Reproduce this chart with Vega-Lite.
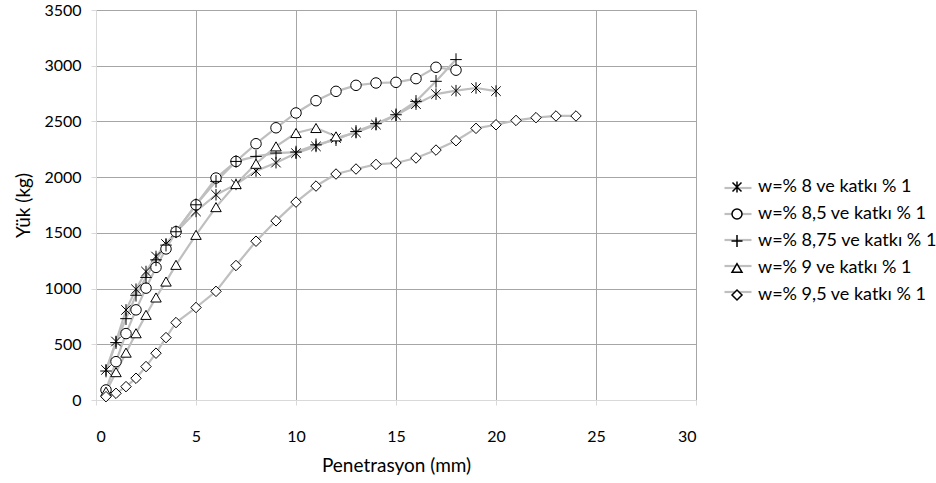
{
  "$schema": "https://vega.github.io/schema/vega-lite/v6.json",
  "width": 600,
  "height": 390,
  "autosize": {"type": "none"},
  "padding": {"left": 96, "top": 10, "right": 240, "bottom": 83},
  "background": "white",
  "config": {
    "view": {"stroke": null},
    "font": "Lato",
    "axis": {
      "grid": true,
      "gridColor": "#A6A6A6",
      "gridWidth": 1,
      "domainColor": "#D9D9D9",
      "tickColor": "#D9D9D9",
      "tickSize": 5,
      "labelFont": "Lato",
      "labelFontSize": 16,
      "labelColor": "#000000",
      "titleFont": "Lato",
      "titleFontSize": 19,
      "titleFontWeight": "normal",
      "titleColor": "#000000"
    }
  },
  "datasets": {
    "olcum": [
      {"s": "w=% 8 ve katkı % 1", "x": 0.5, "y": 270},
      {"s": "w=% 8 ve katkı % 1", "x": 1, "y": 525},
      {"s": "w=% 8 ve katkı % 1", "x": 1.5, "y": 808},
      {"s": "w=% 8 ve katkı % 1", "x": 2, "y": 994},
      {"s": "w=% 8 ve katkı % 1", "x": 2.5, "y": 1153},
      {"s": "w=% 8 ve katkı % 1", "x": 3, "y": 1288},
      {"s": "w=% 8 ve katkı % 1", "x": 3.5, "y": 1400},
      {"s": "w=% 8 ve katkı % 1", "x": 4, "y": 1505},
      {"s": "w=% 8 ve katkı % 1", "x": 5, "y": 1692},
      {"s": "w=% 8 ve katkı % 1", "x": 6, "y": 1842},
      {"s": "w=% 8 ve katkı % 1", "x": 7, "y": 1935},
      {"s": "w=% 8 ve katkı % 1", "x": 8, "y": 2055},
      {"s": "w=% 8 ve katkı % 1", "x": 9, "y": 2130},
      {"s": "w=% 8 ve katkı % 1", "x": 10, "y": 2215},
      {"s": "w=% 8 ve katkı % 1", "x": 11, "y": 2276},
      {"s": "w=% 8 ve katkı % 1", "x": 12, "y": 2351},
      {"s": "w=% 8 ve katkı % 1", "x": 13, "y": 2400},
      {"s": "w=% 8 ve katkı % 1", "x": 14, "y": 2471},
      {"s": "w=% 8 ve katkı % 1", "x": 15, "y": 2555},
      {"s": "w=% 8 ve katkı % 1", "x": 16, "y": 2655},
      {"s": "w=% 8 ve katkı % 1", "x": 17, "y": 2745},
      {"s": "w=% 8 ve katkı % 1", "x": 18, "y": 2776},
      {"s": "w=% 8 ve katkı % 1", "x": 19, "y": 2800},
      {"s": "w=% 8 ve katkı % 1", "x": 20, "y": 2772},
      {"s": "w=% 8,5 ve katkı % 1", "x": 0.5, "y": 90},
      {"s": "w=% 8,5 ve katkı % 1", "x": 1, "y": 344},
      {"s": "w=% 8,5 ve katkı % 1", "x": 1.5, "y": 596},
      {"s": "w=% 8,5 ve katkı % 1", "x": 2, "y": 809},
      {"s": "w=% 8,5 ve katkı % 1", "x": 2.5, "y": 1004},
      {"s": "w=% 8,5 ve katkı % 1", "x": 3, "y": 1190},
      {"s": "w=% 8,5 ve katkı % 1", "x": 3.5, "y": 1356},
      {"s": "w=% 8,5 ve katkı % 1", "x": 4, "y": 1510},
      {"s": "w=% 8,5 ve katkı % 1", "x": 5, "y": 1752},
      {"s": "w=% 8,5 ve katkı % 1", "x": 6, "y": 1992},
      {"s": "w=% 8,5 ve katkı % 1", "x": 7, "y": 2141},
      {"s": "w=% 8,5 ve katkı % 1", "x": 8, "y": 2300},
      {"s": "w=% 8,5 ve katkı % 1", "x": 9, "y": 2443},
      {"s": "w=% 8,5 ve katkı % 1", "x": 10, "y": 2576},
      {"s": "w=% 8,5 ve katkı % 1", "x": 11, "y": 2686},
      {"s": "w=% 8,5 ve katkı % 1", "x": 12, "y": 2770},
      {"s": "w=% 8,5 ve katkı % 1", "x": 13, "y": 2824},
      {"s": "w=% 8,5 ve katkı % 1", "x": 14, "y": 2845},
      {"s": "w=% 8,5 ve katkı % 1", "x": 15, "y": 2851},
      {"s": "w=% 8,5 ve katkı % 1", "x": 16, "y": 2884},
      {"s": "w=% 8,5 ve katkı % 1", "x": 17, "y": 2986},
      {"s": "w=% 8,5 ve katkı % 1", "x": 18, "y": 2960},
      {"s": "w=% 8,75 ve katkı % 1", "x": 0.5, "y": 260},
      {"s": "w=% 8,75 ve katkı % 1", "x": 1, "y": 515},
      {"s": "w=% 8,75 ve katkı % 1", "x": 1.5, "y": 730},
      {"s": "w=% 8,75 ve katkı % 1", "x": 2, "y": 940},
      {"s": "w=% 8,75 ve katkı % 1", "x": 2.5, "y": 1100},
      {"s": "w=% 8,75 ve katkı % 1", "x": 3, "y": 1258},
      {"s": "w=% 8,75 ve katkı % 1", "x": 3.5, "y": 1390},
      {"s": "w=% 8,75 ve katkı % 1", "x": 4, "y": 1510},
      {"s": "w=% 8,75 ve katkı % 1", "x": 5, "y": 1752},
      {"s": "w=% 8,75 ve katkı % 1", "x": 6, "y": 1962},
      {"s": "w=% 8,75 ve katkı % 1", "x": 7, "y": 2141},
      {"s": "w=% 8,75 ve katkı % 1", "x": 8, "y": 2186},
      {"s": "w=% 8,75 ve katkı % 1", "x": 9, "y": 2216},
      {"s": "w=% 8,75 ve katkı % 1", "x": 10, "y": 2225},
      {"s": "w=% 8,75 ve katkı % 1", "x": 11, "y": 2290},
      {"s": "w=% 8,75 ve katkı % 1", "x": 12, "y": 2336},
      {"s": "w=% 8,75 ve katkı % 1", "x": 13, "y": 2410},
      {"s": "w=% 8,75 ve katkı % 1", "x": 14, "y": 2480},
      {"s": "w=% 8,75 ve katkı % 1", "x": 15, "y": 2560},
      {"s": "w=% 8,75 ve katkı % 1", "x": 16, "y": 2680},
      {"s": "w=% 8,75 ve katkı % 1", "x": 17, "y": 2860},
      {"s": "w=% 8,75 ve katkı % 1", "x": 18, "y": 3055},
      {"s": "w=% 9 ve katkı % 1", "x": 0.5, "y": 75},
      {"s": "w=% 9 ve katkı % 1", "x": 1, "y": 250},
      {"s": "w=% 9 ve katkı % 1", "x": 1.5, "y": 425},
      {"s": "w=% 9 ve katkı % 1", "x": 2, "y": 599},
      {"s": "w=% 9 ve katkı % 1", "x": 2.5, "y": 764},
      {"s": "w=% 9 ve katkı % 1", "x": 3, "y": 920},
      {"s": "w=% 9 ve katkı % 1", "x": 3.5, "y": 1063},
      {"s": "w=% 9 ve katkı % 1", "x": 4, "y": 1213},
      {"s": "w=% 9 ve katkı % 1", "x": 5, "y": 1482},
      {"s": "w=% 9 ve katkı % 1", "x": 6, "y": 1731},
      {"s": "w=% 9 ve katkı % 1", "x": 7, "y": 1938},
      {"s": "w=% 9 ve katkı % 1", "x": 8, "y": 2120},
      {"s": "w=% 9 ve katkı % 1", "x": 9, "y": 2276},
      {"s": "w=% 9 ve katkı % 1", "x": 10, "y": 2396},
      {"s": "w=% 9 ve katkı % 1", "x": 11, "y": 2441},
      {"s": "w=% 9 ve katkı % 1", "x": 12, "y": 2366},
      {"s": "w=% 9,5 ve katkı % 1", "x": 0.5, "y": 30},
      {"s": "w=% 9,5 ve katkı % 1", "x": 1, "y": 60},
      {"s": "w=% 9,5 ve katkı % 1", "x": 1.5, "y": 120},
      {"s": "w=% 9,5 ve katkı % 1", "x": 2, "y": 195},
      {"s": "w=% 9,5 ve katkı % 1", "x": 2.5, "y": 300},
      {"s": "w=% 9,5 ve katkı % 1", "x": 3, "y": 420},
      {"s": "w=% 9,5 ve katkı % 1", "x": 3.5, "y": 560},
      {"s": "w=% 9,5 ve katkı % 1", "x": 4, "y": 695},
      {"s": "w=% 9,5 ve katkı % 1", "x": 5, "y": 830},
      {"s": "w=% 9,5 ve katkı % 1", "x": 6, "y": 975},
      {"s": "w=% 9,5 ve katkı % 1", "x": 7, "y": 1207},
      {"s": "w=% 9,5 ve katkı % 1", "x": 8, "y": 1425},
      {"s": "w=% 9,5 ve katkı % 1", "x": 9, "y": 1608},
      {"s": "w=% 9,5 ve katkı % 1", "x": 10, "y": 1776},
      {"s": "w=% 9,5 ve katkı % 1", "x": 11, "y": 1920},
      {"s": "w=% 9,5 ve katkı % 1", "x": 12, "y": 2028},
      {"s": "w=% 9,5 ve katkı % 1", "x": 13, "y": 2073},
      {"s": "w=% 9,5 ve katkı % 1", "x": 14, "y": 2114},
      {"s": "w=% 9,5 ve katkı % 1", "x": 15, "y": 2127},
      {"s": "w=% 9,5 ve katkı % 1", "x": 16, "y": 2172},
      {"s": "w=% 9,5 ve katkı % 1", "x": 17, "y": 2243},
      {"s": "w=% 9,5 ve katkı % 1", "x": 18, "y": 2327},
      {"s": "w=% 9,5 ve katkı % 1", "x": 19, "y": 2438},
      {"s": "w=% 9,5 ve katkı % 1", "x": 20, "y": 2470},
      {"s": "w=% 9,5 ve katkı % 1", "x": 21, "y": 2509},
      {"s": "w=% 9,5 ve katkı % 1", "x": 22, "y": 2534},
      {"s": "w=% 9,5 ve katkı % 1", "x": 23, "y": 2549},
      {"s": "w=% 9,5 ve katkı % 1", "x": 24, "y": 2549}
    ],
    "seriler": [
      {"seri": "w=% 8 ve katkı % 1"},
      {"seri": "w=% 8,5 ve katkı % 1"},
      {"seri": "w=% 8,75 ve katkı % 1"},
      {"seri": "w=% 9 ve katkı % 1"},
      {"seri": "w=% 9,5 ve katkı % 1"}
    ]
  },
  "layer": [
    {
      "data": {"name": "seriler"},
      "mark": {"type": "line", "strokeWidth": 2.2, "opacity": 0},
      "encoding": {
        "color": {
          "field": "seri",
          "type": "nominal",
          "scale": {"range": ["#BFBFBF", "#BFBFBF", "#BFBFBF", "#BFBFBF", "#BFBFBF"]},
          "legend": {
            "orient": "none",
            "legendX": 627,
            "legendY": 163,
            "title": null,
            "symbolType": "stroke",
            "symbolSize": 729,
            "symbolStrokeWidth": 2.2,
            "symbolOpacity": 1,
            "labelExpr": "''",
            "labelFontSize": 18,
            "rowPadding": 2
          }
        }
      }
    },
    {
      "data": {"name": "olcum"},
      "encoding": {
        "x": {
          "field": "x",
          "type": "quantitative",
          "scale": {"domain": [0, 30], "nice": false},
          "axis": {
            "values": [0, 5, 10, 15, 20, 25, 30],
            "title": "Penetrasyon (mm)",
            "labelPadding": 23,
            "titlePadding": 12
          }
        },
        "y": {
          "field": "y",
          "type": "quantitative",
          "scale": {"domain": [0, 3500], "nice": false},
          "axis": {
            "values": [0, 500, 1000, 1500, 2000, 2500, 3000, 3500],
            "format": "d",
            "title": "Yük (kg)",
            "labelPadding": 10,
            "titlePadding": 10
          }
        }
      },
      "layer": [
        {
          "mark": {"type": "line", "strokeWidth": 2.2, "strokeJoin": "round", "color": "#BFBFBF"},
          "encoding": {"detail": {"field": "s", "type": "nominal"}}
        },
        {
          "mark": {"type": "point", "filled": true, "fill": "white", "stroke": "black", "strokeWidth": 1, "size": 110, "opacity": 1},
          "encoding": {
            "shape": {
              "field": "s",
              "type": "nominal",
              "scale": {
                "range": [
                  "M-0.9,-0.9L0.9,0.9M-0.9,0.9L0.9,-0.9M0,-1.1L0,1.1",
                  "circle",
                  "M-1.1,0L1.1,0M0,-1.2L0,1.2",
                  "triangle-up",
                  "diamond"
                ]
              },
              "legend": {
                "orient": "none",
                "legendX": 632,
                "legendY": 168,
                "title": null,
                "symbolSize": 100,
                "symbolOpacity": 1,
                "labelFont": "Lato",
                "labelFontSize": 18,
                "labelColor": "#000000",
                "labelOffset": 12,
                "labelLimit": 400,
                "rowPadding": 9,
                "encode": {
                  "symbols": {
                    "fill": {"value": "white"},
                    "stroke": {"value": "black"},
                    "strokeWidth": {"value": 1},
                    "opacity": {"value": 1}
                  }
                }
              }
            }
          }
        }
      ]
    }
  ]
}
